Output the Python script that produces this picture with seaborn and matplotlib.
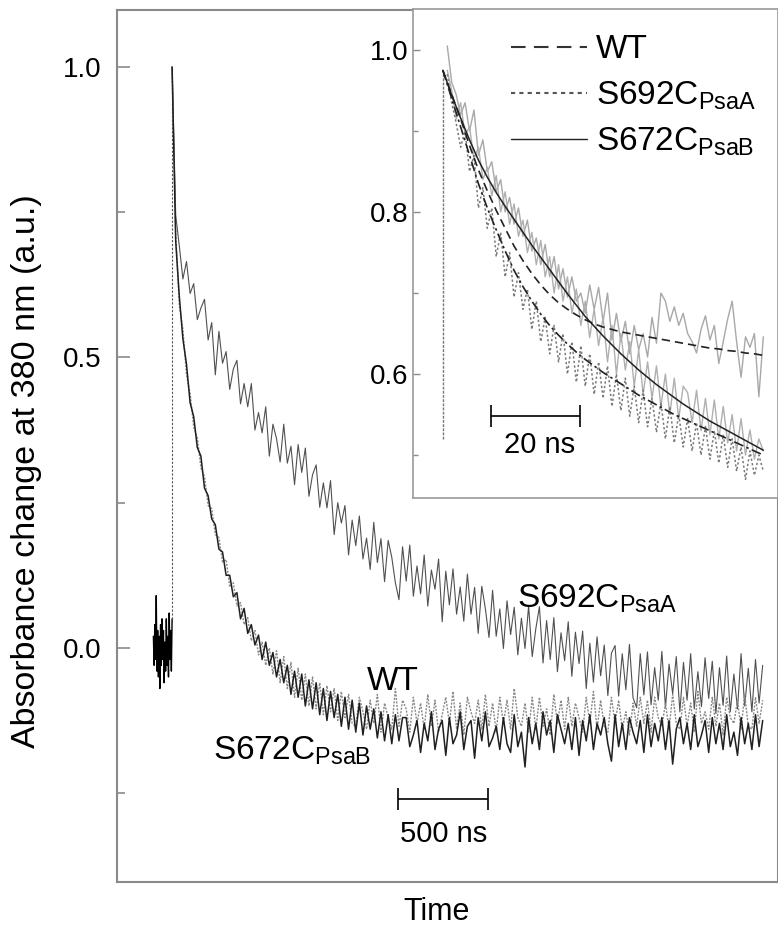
import numpy as np
import matplotlib
matplotlib.use("Agg")
import matplotlib.pyplot as plt
from matplotlib.lines import Line2D
import seaborn as sns

# ---- main panel: transients sampled every 20 ns after the flash ----
t_step_main = 20
s692c_main = [
    1.000, 0.745, 0.692, 0.635, 0.665, 0.610, 0.627, 0.565, 0.585, 0.600,
    0.530, 0.560, 0.470, 0.545, 0.490, 0.510, 0.445, 0.480, 0.495, 0.420,
    0.455, 0.415, 0.455, 0.375, 0.405, 0.370, 0.415, 0.330, 0.385, 0.360,
    0.320, 0.385, 0.318, 0.347, 0.281, 0.350, 0.302, 0.344, 0.261, 0.298,
    0.315, 0.242, 0.284, 0.241, 0.288, 0.195, 0.250, 0.215, 0.245, 0.160,
    0.220, 0.176, 0.227, 0.153, 0.189, 0.135, 0.216, 0.147, 0.188, 0.114,
    0.185, 0.156, 0.112, 0.083, 0.174, 0.115, 0.177, 0.089, 0.141, 0.093,
    0.160, 0.072, 0.134, 0.101, 0.153, 0.045, 0.132, 0.074, 0.136, 0.058,
    0.105, 0.046, 0.127, 0.058, 0.104, 0.025, 0.106, 0.067, 0.018, 0.099,
    0.020, 0.067, -0.001, 0.081, 0.023, 0.070, -0.012, 0.051, -0.001, 0.072,
    -0.015, 0.033, 0.071, -0.026, 0.047, -0.020, 0.052, -0.041, 0.026, -0.022,
    0.045, -0.049, 0.027, -0.027, 0.029, -0.070, 0.008, -0.059, 0.019, -0.048,
    0.005, -0.082, -0.009, 0.004, -0.083, -0.010, -0.072, 0.006, -0.086, -0.103,
    -0.010, -0.081, -0.007, -0.098, -0.034, -0.090, -0.006, -0.102, -0.028, -0.079,
    -0.015, -0.110, -0.025, -0.090, -0.010, -0.105, -0.041, -0.101, -0.017, -0.087,
    -0.023, -0.113, -0.034, -0.099, -0.014, -0.110, -0.045, -0.105, -0.010, -0.100,
    -0.035, -0.110, -0.020, -0.095, -0.030,
]
s672c_main = [
    1.000, 0.700, 0.605, 0.532, 0.488, 0.422, 0.398, 0.345, 0.330, 0.275,
    0.262, 0.222, 0.212, 0.170, 0.165, 0.125, 0.125, 0.088, 0.095, 0.050,
    0.068, 0.025, 0.040, 0.005, 0.022, -0.020, 0.010, -0.030, -0.008, -0.050,
    -0.020, -0.060, -0.030, -0.080, -0.040, -0.085, -0.045, -0.100, -0.055, -0.105,
    -0.060, -0.115, -0.070, -0.125, -0.075, -0.120, -0.080, -0.135, -0.085, -0.140,
    -0.090, -0.145, -0.095, -0.150, -0.100, -0.140, -0.105, -0.155, -0.110, -0.160,
    -0.115, -0.165, -0.115, -0.160, -0.120,
    -0.120, -0.170, -0.150, -0.125, -0.180, -0.130, -0.160, -0.110, -0.175, -0.140,
    -0.125, -0.185, -0.120, -0.165, -0.150, -0.110, -0.175, -0.135, -0.125, -0.190,
    -0.120, -0.160, -0.110, -0.170, -0.155, -0.135, -0.175, -0.120, -0.165, -0.180,
    -0.115, -0.170, -0.145, -0.205, -0.120, -0.165, -0.130, -0.175, -0.110, -0.150,
    -0.125, -0.180, -0.115, -0.140, -0.165, -0.130, -0.175, -0.120, -0.185, -0.125,
    -0.160, -0.115, -0.175, -0.130, -0.150, -0.120, -0.165, -0.195, -0.115, -0.170,
    -0.130, -0.175, -0.120, -0.145, -0.165, -0.125, -0.180, -0.115, -0.170, -0.130,
    -0.160, -0.120, -0.175, -0.125, -0.200, -0.140, -0.120, -0.165, -0.130, -0.175,
    -0.115, -0.170, -0.150, -0.125, -0.180, -0.120, -0.165, -0.130, -0.175, -0.115,
    -0.170, -0.145, -0.185, -0.120, -0.165, -0.130, -0.175, -0.115, -0.170, -0.125,
]
wt_main = [
    1.000, 0.715, 0.590, 0.548, 0.470, 0.438, 0.380, 0.362, 0.310, 0.295,
    0.245, 0.240, 0.195, 0.190, 0.148, 0.152, 0.105, 0.112, 0.072, 0.078,
    0.040, 0.052, 0.012, 0.030, -0.012, 0.010, -0.030, 0.000, -0.045, -0.005,
    -0.060, -0.015, -0.070, -0.025, -0.085, -0.035, -0.090, -0.045, -0.100, -0.050,
    -0.105, -0.060, -0.115, -0.065, -0.110, -0.070, -0.125, -0.075, -0.120, -0.080,
    -0.130,
    -0.135, -0.085, -0.110, -0.140, -0.090, -0.130, -0.080, -0.145, -0.095, -0.120,
    -0.140, -0.070, -0.135, -0.090, -0.105, -0.145, -0.085, -0.130, -0.095, -0.140,
    -0.080, -0.135, -0.090, -0.145, -0.115, -0.085, -0.130, -0.075, -0.140, -0.095,
    -0.150, -0.085, -0.110, -0.130, -0.090, -0.140, -0.080, -0.135, -0.095, -0.145,
    -0.085, -0.130, -0.090, -0.140, -0.070, -0.120, -0.135, -0.095, -0.145, -0.085,
    -0.140, -0.085, -0.135, -0.105, -0.150, -0.080, -0.130, -0.090, -0.140, -0.085,
    -0.135, -0.095, -0.120, -0.145, -0.085, -0.130, -0.075, -0.140, -0.090, -0.135,
    -0.145, -0.085, -0.130, -0.090, -0.140, -0.110, -0.150, -0.095, -0.135, -0.085,
    -0.130, -0.090, -0.145, -0.085, -0.120, -0.135, -0.095, -0.140, -0.080, -0.130,
    -0.140, -0.085, -0.135, -0.095, -0.145, -0.075, -0.130, -0.110, -0.140, -0.085,
    -0.135, -0.095, -0.150, -0.085, -0.120, -0.130, -0.090, -0.140, -0.080, -0.135,
    -0.140, -0.085, -0.130, -0.090,
]
# pre-flash baseline, every 4 ns, ending at the flash
t_step_base = 4
baseline = [
    0.02, -0.03, 0.04, -0.02, 0.09, -0.04, 0.03, -0.05, 0.02, -0.07,
    0.04, -0.03, 0.05, -0.02, 0.03, -0.06, 0.01, -0.04, 0.05, -0.03,
    0.02, -0.05, 0.06, -0.02, 0.03, -0.04, 0.05,
]

# ---- inset: first 72 ns, every 1 ns ----
t_step_inset = 1
s692c_inset = [
    1.005, 0.960, 0.945, 0.920, 0.935, 0.900, 0.926, 0.870, 0.889, 0.850,
    0.862, 0.825, 0.840, 0.800, 0.818, 0.785, 0.805, 0.770, 0.790, 0.752,
    0.768, 0.735, 0.760, 0.720, 0.745, 0.705, 0.730, 0.695, 0.720, 0.690,
    0.700, 0.675, 0.710, 0.680, 0.707, 0.665, 0.700, 0.642, 0.675, 0.640,
    0.665, 0.625, 0.660, 0.630, 0.650, 0.621, 0.670, 0.638, 0.700, 0.690,
    0.665, 0.683, 0.660, 0.675, 0.650, 0.640, 0.626, 0.655, 0.672, 0.642,
    0.660, 0.613, 0.640, 0.668, 0.690, 0.640, 0.596, 0.646, 0.633, 0.650,
    0.572, 0.646,
]
s672c_inset = [
    0.975, 0.950, 0.915, 0.935, 0.895, 0.905, 0.865, 0.880, 0.840, 0.855,
    0.820, 0.845, 0.800, 0.825, 0.785, 0.810, 0.770, 0.790, 0.750, 0.775,
    0.735, 0.765, 0.720, 0.745, 0.700, 0.735, 0.690, 0.720, 0.675, 0.705,
    0.660, 0.690, 0.645, 0.680, 0.635, 0.670, 0.615, 0.660, 0.600, 0.650,
    0.605, 0.640, 0.585, 0.630, 0.575, 0.615, 0.570, 0.610, 0.560, 0.600,
    0.550, 0.595, 0.545, 0.585, 0.577, 0.540, 0.580, 0.530, 0.570, 0.525,
    0.568, 0.520, 0.560, 0.515, 0.550, 0.505, 0.545, 0.500, 0.531, 0.495,
    0.520, 0.505,
]
wt_inset = [
    0.970, 0.935, 0.910, 0.880, 0.900, 0.850, 0.870, 0.805, 0.830, 0.780,
    0.805, 0.745, 0.775, 0.720, 0.750, 0.695, 0.725, 0.680, 0.705, 0.655,
    0.690, 0.640, 0.670, 0.625, 0.660, 0.615, 0.650, 0.600, 0.640, 0.590,
    0.635, 0.585, 0.625, 0.575, 0.615, 0.570, 0.610, 0.560, 0.600, 0.555,
    0.595, 0.548, 0.585, 0.540, 0.580, 0.535, 0.570, 0.528, 0.565, 0.520,
    0.560, 0.515, 0.550, 0.510, 0.545, 0.505, 0.540, 0.500, 0.535, 0.495,
    0.530, 0.490, 0.525, 0.485, 0.520, 0.480, 0.510, 0.470, 0.505, 0.475,
    0.500, 0.480,
]
inset_rise = [0.52, 0.97]

# fitted decays, every 2 ns from the flash
t_step_fit = 2
fit_s672c = [
    0.975, 0.944, 0.916, 0.889, 0.864, 0.843, 0.824, 0.807, 0.791, 0.775,
    0.759, 0.744, 0.729, 0.714, 0.699, 0.685, 0.671, 0.659, 0.647, 0.636,
    0.625, 0.615, 0.605, 0.596, 0.587, 0.579, 0.571, 0.563, 0.556, 0.549,
    0.542, 0.536, 0.530, 0.524, 0.518, 0.512, 0.506,
]
fit_wt = [
    0.975, 0.940, 0.905, 0.870, 0.835, 0.805, 0.778, 0.752, 0.728, 0.708,
    0.690, 0.674, 0.660, 0.648, 0.637, 0.627, 0.618, 0.610, 0.602, 0.595,
    0.588, 0.581, 0.574, 0.568, 0.562, 0.556, 0.550, 0.545, 0.540, 0.535,
    0.530, 0.525, 0.520, 0.515, 0.510, 0.505, 0.500,
]
fit_s692c = [
    0.975, 0.945, 0.915, 0.882, 0.852, 0.826, 0.802, 0.780, 0.758, 0.740,
    0.724, 0.710, 0.698, 0.688, 0.680, 0.673, 0.667, 0.662, 0.658, 0.655,
    0.652, 0.650, 0.648, 0.646, 0.644, 0.642, 0.640, 0.638, 0.636, 0.634,
    0.632, 0.631, 0.629, 0.628, 0.626, 0.625, 0.623,
]


def times(values, step, start=0.0):
    return start + np.arange(len(values)) * step


sns.set_theme(style="white")
plt.rcParams["font.family"] = ["Liberation Sans", "DejaVu Sans"]
plt.rcParams["mathtext.fontset"] = "custom"
plt.rcParams["mathtext.rm"] = "Liberation Sans"
plt.rcParams["mathtext.it"] = "Liberation Sans:italic"
plt.rcParams["axes.edgecolor"] = "#8a8a8a"
plt.rcParams["axes.linewidth"] = 1.5
plt.rcParams["text.color"] = "black"
plt.rcParams["axes.labelcolor"] = "black"
plt.rcParams["ytick.labelcolor"] = "black"

fig = plt.figure(figsize=(7.78, 9.30), dpi=100)
W, H = 778, 930
ax = fig.add_axes([117 / W, 1 - 882 / H, (778 - 117) / W, (882 - 10) / H])

t_base = times(baseline, t_step_base, start=-t_step_base * (len(baseline) - 1))
sns.lineplot(x=t_base, y=baseline, ax=ax, color="black", lw=1.0,
             estimator=None, sort=False)
ax.plot([0, 0], [baseline[-1], s692c_main[0]], color="#555555", lw=0.8,
        linestyle=(0, (2, 1.5)))
sns.lineplot(x=times(s692c_main, t_step_main), y=s692c_main, ax=ax,
             color="#505050", lw=0.8, estimator=None, sort=False)
sns.lineplot(x=times(wt_main, t_step_main), y=wt_main, ax=ax,
             color="#8a8a8a", lw=1.0, linestyle=(0, (1.5, 1)),
             estimator=None, sort=False)
sns.lineplot(x=times(s672c_main, t_step_main), y=s672c_main, ax=ax,
             color="#202020", lw=1.1, estimator=None, sort=False)

ax.set_xlim(-306, 3365)
ax.set_ylim(-0.403, 1.098)
ax.set_xticks([])
ax.set_yticks([0.0, 0.5, 1.0])
ax.set_yticks([-0.25, 0.25, 0.75], minor=True)
ax.yaxis.set_major_formatter(matplotlib.ticker.FormatStrFormatter("%.1f"))
ax.tick_params(axis="y", which="major", direction="in", length=9, width=1.2,
               color="#8a8a8a", labelsize=20, pad=11, left=True)
ax.tick_params(axis="y", which="minor", direction="in", length=5.5, width=1.2,
               color="#8a8a8a", left=True)
ax.set_ylabel("Absorbance change at 380 nm (a.u.)", fontsize=24.5,
              labelpad=15, y=0.471)
ax.set_xlabel("Time", fontsize=22, labelpad=11, x=0.484)

ax.text(1917, 0.069, "S692C$_{\\mathrm{PsaA}}$", fontsize=24, ha="left", va="baseline")
ax.text(1083, -0.072, "WT", fontsize=24, ha="left", va="baseline")
ax.text(228, -0.193, "S672C$_{\\mathrm{PsaB}}$", fontsize=24, ha="left", va="baseline")

# 500 ns scale bar
ax.errorbar([1506], [-0.26], xerr=[250], color="black", lw=1.2, capsize=8,
            capthick=1.2)
ax.text(1506, -0.334, "500 ns", fontsize=21, ha="center", va="baseline")

# ---- inset ----
axi = fig.add_axes([413 / W, 1 - 498 / H, (778 - 413) / W, (498 - 9) / H])
axi.set_facecolor("white")
axi.plot([0, 0], inset_rise, color="#777777", lw=1.0, linestyle=(0, (2, 1)))
sns.lineplot(x=times(s692c_inset, t_step_inset, start=1), y=s692c_inset, ax=axi,
             color="#a8a8a8", lw=1.0, estimator=None, sort=False)
sns.lineplot(x=times(s672c_inset, t_step_inset, start=1), y=s672c_inset, ax=axi,
             color="#b0b0b0", lw=1.0, estimator=None, sort=False)
sns.lineplot(x=times(wt_inset, t_step_inset, start=1), y=wt_inset, ax=axi,
             color="#7a7a7a", lw=1.1, linestyle=(0, (1.5, 1.5)),
             estimator=None, sort=False)
sns.lineplot(x=times(fit_s692c, t_step_fit), y=fit_s692c, ax=axi,
             color="#222222", lw=1.2, linestyle=(0, (5, 3)),
             estimator=None, sort=False)
sns.lineplot(x=times(fit_wt, t_step_fit), y=fit_wt, ax=axi,
             color="#222222", lw=1.2, linestyle=(0, (6, 2, 1.5, 2)),
             estimator=None, sort=False)
sns.lineplot(x=times(fit_s672c, t_step_fit), y=fit_s672c, ax=axi,
             color="#222222", lw=1.1, estimator=None, sort=False)

axi.set_xlim(-6.7, 75.3)
axi.set_ylim(0.447, 1.0506)
axi.set_xticks([])
axi.set_yticks([0.6, 0.8, 1.0])
axi.set_yticks([0.5, 0.7, 0.9], minor=True)
axi.yaxis.set_major_formatter(matplotlib.ticker.FormatStrFormatter("%.1f"))
axi.tick_params(axis="y", which="major", direction="in", length=5, width=1.0,
                color="#8a8a8a", labelsize=20, pad=3, left=True)
axi.tick_params(axis="y", which="minor", direction="in", length=3.5, width=1.0,
                color="#8a8a8a", left=True)
for sp in axi.spines.values():
    sp.set_color("#9a9a9a")
    sp.set_linewidth(1.2)

axi.errorbar([20.8], [0.548], xerr=[10], color="black", lw=1.2, capsize=8,
             capthick=1.2)
axi.text(21.8, 0.502, "20 ns", fontsize=21, ha="center", va="baseline")

handles = [
    Line2D([], [], color="#333333", lw=1.5, linestyle=(0, (7, 4))),
    Line2D([], [], color="#555555", lw=1.5, linestyle=(0, (2, 2))),
    Line2D([], [], color="#222222", lw=1.0),
]
labels = ["WT", "S692C$_{\\mathrm{PsaA}}$", "S672C$_{\\mathrm{PsaB}}$"]
axi.legend(handles, labels, loc="upper left", bbox_to_anchor=(0.268, 0.948),
           frameon=False, fontsize=24, handlelength=2.3, handletextpad=0.25,
           borderpad=0, borderaxespad=0, labelspacing=0.42)

fig.savefig("out.png", dpi=100)
